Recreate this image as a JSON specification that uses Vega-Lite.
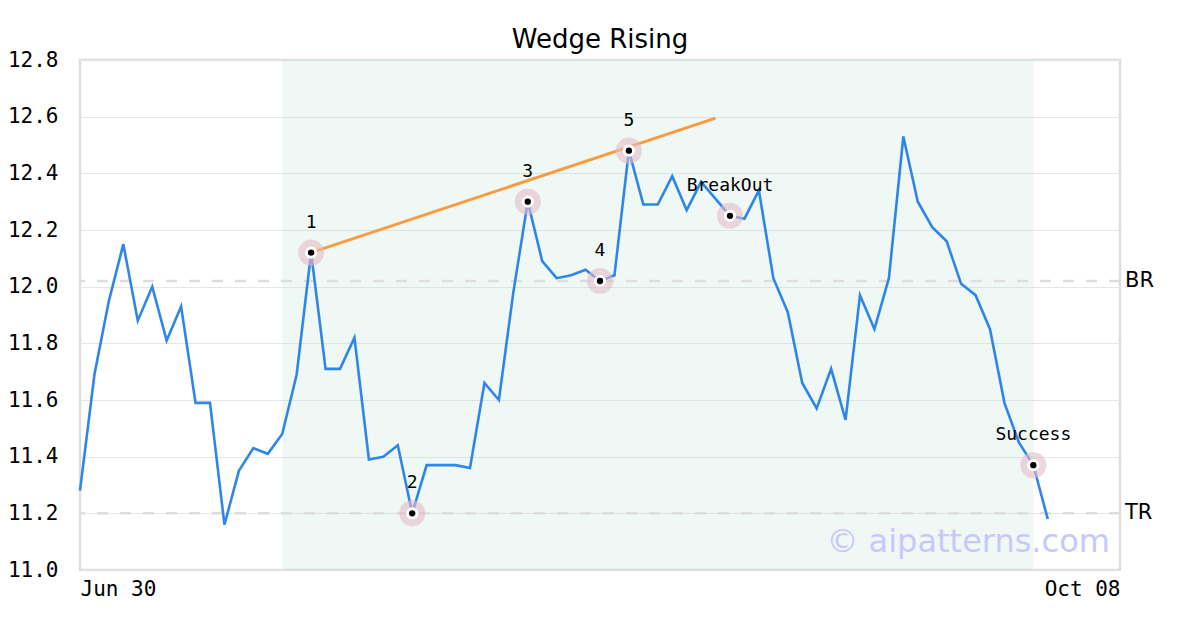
{
  "$schema": "https://vega.github.io/schema/vega-lite/v6.json",
  "width": 1040,
  "height": 510,
  "autosize": "none",
  "padding": {"left": 80, "top": 60, "right": 80, "bottom": 60},
  "background": "white",
  "title": {"text": "Wedge Rising", "font": "DejaVu Sans", "fontSize": 26, "fontWeight": "normal", "color": "black", "offset": -4},
  "config": {
    "view": {"stroke": "#dddddd", "strokeWidth": 2.5},
    "axis": {"labelFont": "DejaVu Sans Mono", "labelFontSize": 21, "labelColor": "black", "ticks": false, "domain": false, "title": null}
  },
  "datasets": {
    "prices": [
      {"i": 0, "v": 11.28}, {"i": 1, "v": 11.69}, {"i": 2, "v": 11.95}, {"i": 3, "v": 12.15}, {"i": 4, "v": 11.88},
      {"i": 5, "v": 12.0}, {"i": 6, "v": 11.81}, {"i": 7, "v": 11.93}, {"i": 8, "v": 11.59}, {"i": 9, "v": 11.59},
      {"i": 10, "v": 11.16}, {"i": 11, "v": 11.35}, {"i": 12, "v": 11.43}, {"i": 13, "v": 11.41}, {"i": 14, "v": 11.48},
      {"i": 15, "v": 11.69}, {"i": 16, "v": 12.12}, {"i": 17, "v": 11.71}, {"i": 18, "v": 11.71}, {"i": 19, "v": 11.82},
      {"i": 20, "v": 11.39}, {"i": 21, "v": 11.4}, {"i": 22, "v": 11.44}, {"i": 23, "v": 11.2}, {"i": 24, "v": 11.37},
      {"i": 25, "v": 11.37}, {"i": 26, "v": 11.37}, {"i": 27, "v": 11.36}, {"i": 28, "v": 11.66}, {"i": 29, "v": 11.6},
      {"i": 30, "v": 11.98}, {"i": 31, "v": 12.3}, {"i": 32, "v": 12.09}, {"i": 33, "v": 12.03}, {"i": 34, "v": 12.04},
      {"i": 35, "v": 12.06}, {"i": 36, "v": 12.02}, {"i": 37, "v": 12.04}, {"i": 38, "v": 12.48}, {"i": 39, "v": 12.29},
      {"i": 40, "v": 12.29}, {"i": 41, "v": 12.39}, {"i": 42, "v": 12.27}, {"i": 43, "v": 12.37}, {"i": 44, "v": 12.31},
      {"i": 45, "v": 12.25}, {"i": 46, "v": 12.24}, {"i": 47, "v": 12.34}, {"i": 48, "v": 12.03}, {"i": 49, "v": 11.91},
      {"i": 50, "v": 11.66}, {"i": 51, "v": 11.57}, {"i": 52, "v": 11.71}, {"i": 53, "v": 11.53}, {"i": 54, "v": 11.97},
      {"i": 55, "v": 11.85}, {"i": 56, "v": 12.03}, {"i": 57, "v": 12.53}, {"i": 58, "v": 12.3}, {"i": 59, "v": 12.21},
      {"i": 60, "v": 12.16}, {"i": 61, "v": 12.01}, {"i": 62, "v": 11.97}, {"i": 63, "v": 11.85}, {"i": 64, "v": 11.59},
      {"i": 65, "v": 11.45}, {"i": 66, "v": 11.37}, {"i": 67, "v": 11.18}
    ],
    "points": [
      {"i": 16, "v": 12.12, "label": "1"},
      {"i": 23, "v": 11.2, "label": "2"},
      {"i": 31, "v": 12.3, "label": "3"},
      {"i": 36, "v": 12.02, "label": "4"},
      {"i": 38, "v": 12.48, "label": "5"},
      {"i": 45, "v": 12.25, "label": "BreakOut"},
      {"i": 66, "v": 11.37, "label": "Success"}
    ],
    "wedge": [{"i": 16, "v": 12.12}, {"i": 44, "v": 12.595}],
    "zone": [{"start": 14, "end": 66}],
    "levels": [{"name": "BR", "v": 12.02}, {"name": "TR", "v": 11.2}],
    "mark": [{"t": "© aipatterns.com", "i": 71.3, "v": 11.1}]
  },
  "encoding": {
    "x": {"field": "i", "type": "quantitative", "scale": {"domain": [0, 72], "nice": false, "zero": false},
      "axis": {"values": [0, 72], "grid": false, "labelFlush": true, "labelPadding": 8,
        "labelExpr": "datum.value == 0 ? 'Jun 30' : 'Oct 08'"}},
    "y": {"field": "v", "type": "quantitative", "scale": {"domain": [11, 12.8], "nice": false, "zero": false},
      "axis": {"values": [11, 11.2, 11.4, 11.6, 11.8, 12, 12.2, 12.4, 12.6, 12.8], "format": ".1f", "labelPadding": 22,
        "gridColor": "#e6e6e6", "gridWidth": 1}}
  },
  "layer": [
    {
      "data": {"name": "zone"},
      "mark": {"type": "rect", "fill": "#b4ddcd", "opacity": 0.2},
      "encoding": {"x": {"field": "start", "type": "quantitative"}, "x2": {"field": "end"}, "y": null}
    },
    {
      "data": {"name": "levels"},
      "mark": {"type": "rule", "color": "#dddddd", "strokeWidth": 2.5, "strokeDash": [11, 12]},
      "encoding": {"x": null}
    },
    {
      "data": {"name": "levels"},
      "mark": {"type": "text", "align": "left", "baseline": "middle", "dx": 5, "font": "DejaVu Sans", "fontSize": 21, "fill": "black", "clip": false},
      "encoding": {"x": {"value": "width"}, "text": {"field": "name", "type": "nominal"}}
    },
    {
      "data": {"name": "mark"},
      "mark": {"type": "text", "align": "right", "baseline": "middle", "font": "DejaVu Sans", "fontSize": 32, "color": "#c8c8fb"},
      "encoding": {"text": {"field": "t"}}
    },
    {
      "data": {"name": "prices"},
      "mark": {"type": "line", "color": "#2e86e8", "strokeWidth": 2.6}
    },
    {
      "data": {"name": "wedge"},
      "mark": {"type": "line", "color": "#f99c40", "strokeWidth": 3}
    },
    {
      "data": {"name": "points"},
      "mark": {"type": "circle", "fill": "#e2bcc6", "opacity": 0.6, "size": 680}
    },
    {
      "data": {"name": "points"},
      "mark": {"type": "circle", "fill": "white", "opacity": 1, "size": 150}
    },
    {
      "data": {"name": "points"},
      "mark": {"type": "circle", "fill": "black", "opacity": 1, "size": 40}
    },
    {
      "data": {"name": "points"},
      "mark": {"type": "text", "dy": -30, "baseline": "middle", "align": "center", "font": "DejaVu Sans Mono", "fontSize": 18, "color": "black"},
      "encoding": {"text": {"field": "label"}}
    }
  ]
}
